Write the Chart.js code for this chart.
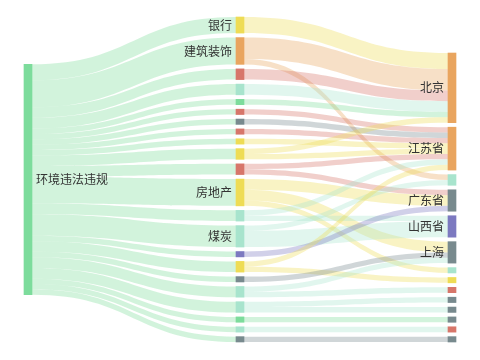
<!DOCTYPE html>
<html>
<head>
<meta charset="utf-8">
<script src="https://cdn.jsdelivr.net/npm/chart.js@4.4.1/dist/chart.umd.min.js"></script>
<style>
    html, body { margin: 0; background: #fff; }
</style>
</head>
<body>
<canvas id="chart" width="480" height="360"></canvas>
<script>
//////////////////////////////////////////////// data
const sourceNames = ['环境违法违规'];
const industryNames = ['银行', '建筑装饰', '', '', '', '', '', '', '', '', '', '房地产', '', '煤炭', '', '', '', '', '', '', '', ''];
const regionNames = ['北京', '江苏省', '', '广东省', '山西省', '上海', '', '', '', '', '', '', '', ''];

// 环境违法违规 -> industry
const industryValues = [3, 5, 2, 2, 1, 1, 1, 1, 1, 2, 2, 5, 2, 4, 1, 2, 1, 2, 2, 1, 1, 1];

// industry -> region
const flowFrom   = [0, 1, 1, 2, 3, 4, 5, 6, 7, 8, 9, 9, 10, 10, 11, 11, 11, 12, 12, 13, 13, 14, 15, 15, 16, 17, 17, 18, 18, 19, 20, 21];
const flowTo     = [0, 0, 2, 0, 0, 0, 1, 1, 1, 1, 0, 1, 1, 3, 3, 5, 6, 1, 4, 2, 4, 3, 1, 7, 5, 5, 8, 9, 10, 11, 12, 13];
const flowValues = [3, 4, 1, 2, 2, 1, 1, 1, 1, 1, 1, 1, 1, 1, 2, 2, 1, 1, 1, 1, 3, 1, 1, 1, 1, 1, 1, 1, 1, 1, 1, 1];

//////////////////////////////////////////////// colours
const green = '#7ddc9c', yellow = '#eedc55', orange = '#e9a55f', red = '#d7766a',
    teal = '#a8e4cd', gray = '#788a8e', purple = '#7c79c0';
const sourceColors = [green];
const industryColors = [yellow, orange, red, teal, green, red, gray, red, yellow, yellow, red,
    yellow, teal, teal, purple, yellow, gray, teal, teal, green, teal, gray];
const regionColors = [orange, orange, teal, gray, purple, gray, teal, yellow, red, gray, gray, gray, red, gray];

//////////////////////////////////////////////// layout (in value units)
const gap = 0.84;
const nodeHalf = 4;

const columns = [sourceNames, industryNames, regionNames].map((names, c) =>
    names.map((name, i) => ({
        name, col: c,
        color: [sourceColors, industryColors, regionColors][c][i],
        ins: [], outs: []
    })));

const links = [];
industryValues.forEach((v, i) => links.push({ s: columns[0][0], t: columns[1][i], v }));
flowFrom.forEach((f, k) => links.push({ s: columns[1][f], t: columns[2][flowTo[k]], v: flowValues[k] }));
links.forEach(l => { l.s.outs.push(l); l.t.ins.push(l); });

const total = arr => arr.reduce((a, l) => a + l.v, 0);
const nodes = columns.flat();
nodes.forEach(n => n.value = Math.max(total(n.ins), total(n.outs)));

const colHeight = col => col.reduce((a, n) => a + n.value, 0) + (col.length - 1) * gap;
const H = Math.max(...columns.map(colHeight));
// left column centred, right column sits on the bottom
const starts = [(H - colHeight(columns[0])) / 2, 0, H - colHeight(columns[2])];
columns.forEach((col, c) => {
    let y = starts[c];
    col.forEach(n => { n.y0 = y; n.y1 = y + n.value; y = n.y1 + gap; });
});
nodes.forEach(n => {
    let y = n.y0;
    n.outs.slice().sort((a, b) => a.t.y0 - b.t.y0).forEach(l => { l.sy = y; y += l.v; });
    y = n.y0;
    n.ins.slice().sort((a, b) => a.s.y0 - b.s.y0).forEach(l => { l.ty = y; y += l.v; });
});

//////////////////////////////////////////////// links + labels
const sankeyLinks = {
    id: 'sankeyLinks',
    beforeDatasetsDraw(chart) {
        const { ctx, scales: { x, y } } = chart;
        ctx.save();
        ctx.globalAlpha = 0.35;
        links.forEach(l => {
            const x0 = x.getPixelForValue(l.s.col) + nodeHalf;
            const x1 = x.getPixelForValue(l.t.col) - nodeHalf;
            const xm = (x0 + x1) / 2;
            const a0 = y.getPixelForValue(l.sy), a1 = y.getPixelForValue(l.sy + l.v);
            const b0 = y.getPixelForValue(l.ty), b1 = y.getPixelForValue(l.ty + l.v);
            ctx.beginPath();
            ctx.moveTo(x0, a0);
            ctx.bezierCurveTo(xm, a0, xm, b0, x1, b0);
            ctx.lineTo(x1, b1);
            ctx.bezierCurveTo(xm, b1, xm, a1, x0, a1);
            ctx.closePath();
            ctx.fillStyle = l.s.color;
            ctx.fill();
        });
        ctx.restore();
    },
    afterDatasetsDraw(chart) {
        const { ctx, scales: { x, y } } = chart;
        ctx.save();
        ctx.font = '12px "Noto Sans CJK SC", sans-serif';
        ctx.fillStyle = '#333';
        ctx.textBaseline = 'middle';
        nodes.forEach(n => {
            if (!n.name) return;
            const cy = y.getPixelForValue((n.y0 + n.y1) / 2);
            const px = x.getPixelForValue(n.col);
            if (n.col === 0) {
                ctx.textAlign = 'left';
                ctx.fillText(n.name, px + nodeHalf + 4, cy);
            } else {
                ctx.textAlign = 'right';
                ctx.fillText(n.name, px - nodeHalf - 4, cy);
            }
        });
        ctx.restore();
    }
};

//////////////////////////////////////////////// chart
new Chart(document.getElementById('chart'), {
    type: 'bar',
    data: {
        datasets: [{
            data: nodes.map(n => ({ x: n.col, y: [n.y0, n.y1] })),
            backgroundColor: nodes.map(n => n.color),
            barThickness: 8,
            clip: false
        }]
    },
    options: {
        responsive: false,
        animation: false,
        layout: { padding: { left: 28, right: 28, top: 17, bottom: 18 } },
        scales: {
            x: { type: 'linear', min: 0, max: 2, offset: false, display: false },
            y: { min: 0, max: H, reverse: true, display: false }
        },
        plugins: {
            legend: { display: false },
            tooltip: { enabled: false }
        }
    },
    plugins: [sankeyLinks]
});
</script>
</body>
</html>
